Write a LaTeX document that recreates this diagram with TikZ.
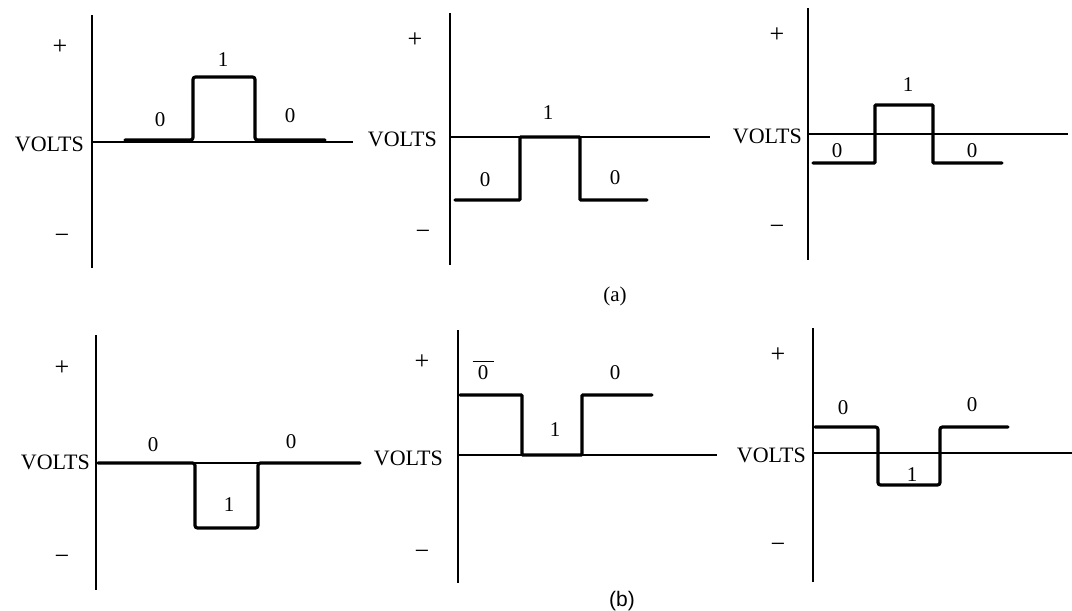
\documentclass[tikz,border=0pt]{standalone}
\usepackage{fontspec}
\setmainfont{Liberation Serif}
\newfontfamily\capfont{Liberation Sans}
\usepackage{tikz}

\begin{document}
\begin{tikzpicture}[x=1pt, y=-1pt,
        every node/.style={inner sep=0pt, font=\fontsize{22}{26}\selectfont},
        sign/.style={font=\fontsize{26}{30}\selectfont},
        bit/.style={font=\fontsize{21}{25}\selectfont},
        axis/.style={line width=1.8pt},
        wave/.style={line width=3.2pt, rounded corners=2.5pt, line cap=round}]
        % Fix the page to the size of the reference
        \useasboundingbox (0,0) rectangle (1072,611);

        % Draw the top left panel (positive pulse on zero)
        \draw[axis] (92,15) -- (92,268);
        \draw[axis] (92,142) -- (353,142);
        \node (VoltsA) [anchor=east] at (84,144) {VOLTS};
        \node[sign] (PlusA) at (60,47) {+};
        \node[sign] (MinusA) at (62,239) {−};
        \draw[wave] (125,140) -- (193,140) -- (193,77) -- (255,77) -- (255,140) -- (325,140);
        \node[bit] (ZeroA) at (160,120) {0};
        \node[bit] (OneA) at (223,60) {1};
        \node[bit] (ZeroAA) at (290,116) {0};

        % Draw the top middle panel (pulse up to zero)
        \draw[axis] (450,13) -- (450,265);
        \draw[axis] (450,137) -- (710,137);
        \node (VoltsB) [anchor=east] at (437,139) {VOLTS};
        \node[sign] (PlusB) at (415,40) {+};
        \node[sign] (MinusB) at (423,235) {−};
        \draw[wave, rounded corners=1pt] (455,200) -- (520,200) -- (520,137) -- (580,137) -- (580,200) -- (647,200);
        \node[bit] (ZeroB) at (485,180) {0};
        \node[bit] (OneB) at (548,113) {1};
        \node[bit] (ZeroBB) at (615,178) {0};

        % Draw the top right panel (pulse across zero)
        \draw[axis] (808,8) -- (808,260);
        \draw[axis] (808,134) -- (1068,134);
        \node (VoltsC) [anchor=east] at (802,136) {VOLTS};
        \node[sign] (PlusC) at (777,35) {+};
        \node[sign] (MinusC) at (777,230) {−};
        \draw[wave, rounded corners=1pt] (813,163) -- (875,163) -- (875,105) -- (933,105) -- (933,163) -- (1002,163);
        \node[bit] (ZeroC) at (837,151) {0};
        \node[bit] (OneC) at (908,85) {1};
        \node[bit] (ZeroCC) at (972,151) {0};

        \node[bit] (CapA) at (615,296) {(a)};

        % Draw the bottom left panel (negative pulse on zero)
        \draw[axis] (96,335) -- (96,590);
        \draw[axis] (96,463) -- (360,463);
        \node (VoltsD) [anchor=east] at (90,462) {VOLTS};
        \node[sign] (PlusD) at (62,368) {+};
        \node[sign] (MinusD) at (62,560) {−};
        \draw[wave] (98,463) -- (195,463) -- (195,528) -- (258,528) -- (258,463) -- (360,463);
        \node[bit] (ZeroD) at (153,445) {0};
        \node[bit] (OneD) at (229,505) {1};
        \node[bit] (ZeroDD) at (291,442) {0};

        % Draw the bottom middle panel (pulse down to zero)
        \draw[axis] (458,330) -- (458,583);
        \draw[axis] (458,455) -- (717,455);
        \node (VoltsE) [anchor=east] at (443,458) {VOLTS};
        \node[sign] (PlusE) at (422,362) {+};
        \node[sign] (MinusE) at (422,555) {−};
        \draw[wave, rounded corners=1pt] (460,395) -- (522,395) -- (522,455) -- (582,455) -- (582,395) -- (652,395);
        \node[bit] (ZeroE) at (483,370) {$\overline{\hbox{\rule{0pt}{17pt}\ 0\ }}$};
        \node[bit] (OneE) at (555,430) {1};
        \node[bit] (ZeroEE) at (615,373) {0};

        % Draw the bottom right panel (pulse across zero)
        \draw[axis] (813,328) -- (813,582);
        \draw[axis] (813,453) -- (1072,453);
        \node (VoltsF) [anchor=east] at (806,455) {VOLTS};
        \node[sign] (PlusF) at (778,355) {+};
        \node[sign] (MinusF) at (778,548) {−};
        \draw[wave] (815,427) -- (878,427) -- (878,485) -- (940,485) -- (940,427) -- (1008,427);
        \node[bit] (ZeroF) at (843,408) {0};
        \node[bit] (OneF) at (912,475) {1};
        \node[bit] (ZeroFF) at (972,405) {0};

        \node[bit] (CapB) at (622,601) {\capfont (b)};
    \end{tikzpicture}
\end{document}
